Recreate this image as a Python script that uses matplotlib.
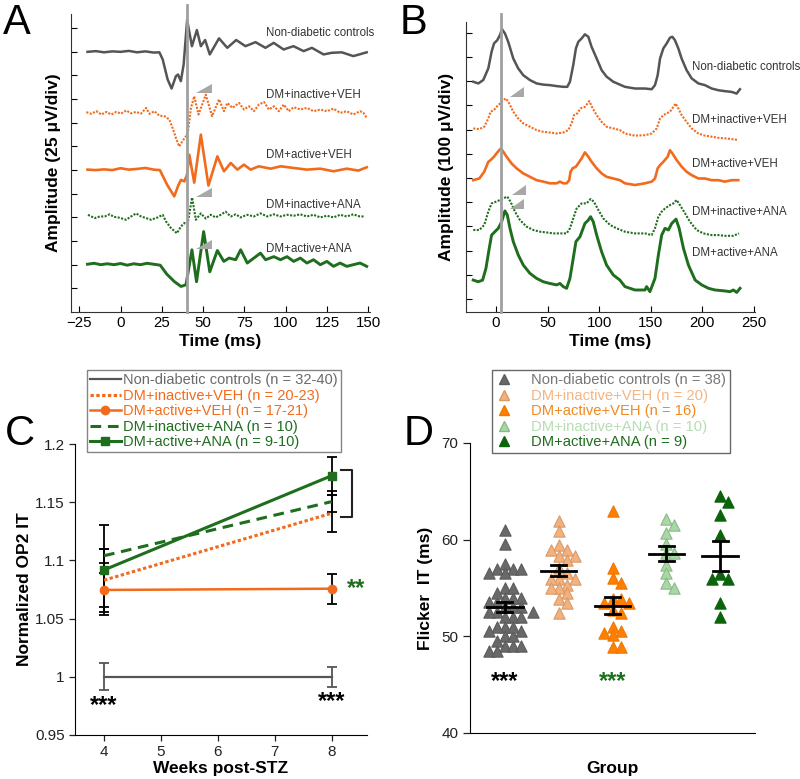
import numpy as np
import matplotlib
matplotlib.use("Agg")
import matplotlib.pyplot as plt
from matplotlib.lines import Line2D

plt.rcParams['font.family'] = ['Liberation Sans', 'DejaVu Sans']

# ---------------- data ----------------
GROUPS = ["Non-diabetic controls", "DM+inactive+VEH", "DM+active+VEH",
          "DM+inactive+ANA", "DM+active+ANA"]

# Panel A: OP waveforms (ms, amplitude in 25 uV divisions)
A_T_CTRL = [-20, -15, -10, -5, 0, 5, 10, 15, 20, 23.5, 25.5, 28.5, 30.9, 33.5, 34.8, 36.5, 38.2,
            40.3, 43.2, 46.2, 48.6, 51.2, 54, 59.6, 64.6, 70, 75.6, 81.7, 87.7, 92.7, 98.7, 104.7,
            110.8, 115.8, 122.9, 127.9, 133.9, 140.9, 145, 149]
A_V_CTRL = [11.0, 11.03, 10.98, 11.02, 11.0, 11.04, 10.98, 11.02, 10.97, 10.98, 10.68, 9.83, 9.45,
            9.97, 10.04, 9.76, 10.47, 12.35, 11.24, 11.92, 11.24, 11.5, 10.89, 11.57, 11.17, 11.5,
            11.24, 11.41, 11.17, 11.38, 11.1, 11.24, 11.03, 11.17, 10.89, 10.96, 10.98, 10.82,
            10.9, 10.98]
A_T_IVEH = [-20.7, -17.7, -14.6, -11.6, -8.6, -5.6, -2.6, 0.4, 3.4, 6.4, 9.4, 12.4, 15.5, 17.5,
            20.5, 23.5, 26.5, 29.5, 31.5, 33.5, 35.5, 37.6, 39.6, 41, 42.6, 44.6, 47.2, 51.6, 55.4,
            59.6, 62.6, 64.7, 67.7, 71.7, 74.7, 77.7, 80.7, 83.7, 86.8, 89.8, 92.8, 95.8, 98.8,
            101.8, 104.8, 108.8, 112.8, 116.8, 120.9, 124.9, 128.9, 132.9, 136.9, 140.9, 145, 147, 149]
A_V_IVEH = [8.45, 8.38, 8.49, 8.35, 8.46, 8.35, 8.46, 8.39, 8.52, 8.40, 8.46, 8.39, 8.63, 8.38,
            8.49, 8.30, 8.28, 8.14, 7.78, 7.36, 7.00, 7.24, 7.43, 7.71, 8.63, 9.12, 8.35, 9.19, 8.28,
            8.99, 8.49, 8.84, 8.63, 8.84, 8.56, 8.70, 8.49, 8.77, 8.88, 8.56, 8.70, 8.49, 8.77,
            8.49, 8.66, 8.56, 8.63, 8.49, 8.56, 8.49, 8.60, 8.42, 8.49, 8.35, 8.49, 8.42, 8.21]
A_T_AVEH = [-20, -15, -10, -5, 0, 5, 10, 15, 20, 23.8, 28.2, 32.5, 35.1, 36.6, 38.6, 40.2, 41.6,
            44.6, 48.6, 53.2, 58.6, 62.6, 66.7, 70.7, 74.7, 78.7, 83.7, 90.8, 96.9, 104.8, 112.8,
            120.9, 128.9, 136.9, 144, 149]
A_V_AVEH = [6.02, 6.0, 6.03, 6.0, 6.08, 6.02, 6.05, 6.09, 6.02, 6.0, 5.38, 4.89, 5.38, 5.59, 5.52,
            5.8, 6.65, 5.47, 7.5, 5.35, 6.58, 5.95, 6.3, 6.02, 6.23, 6.02, 6.16, 6.06, 6.16, 6.09,
            6.02, 6.06, 5.95, 6.06, 5.98, 6.12]
A_T_IANA = [-19.7, -15.7, -12.5, -9.6, -6.6, -4, -1.6, 1, 3.4, 6.4, 9.4, 12.4, 15.5, 18.5, 22.5,
            25.5, 27.5, 30.5, 34.1, 36.6, 38.6, 40.6, 43.3, 45.6, 48.6, 51.6, 54.6, 57.6, 60.6,
            63.6, 66.7, 69.7, 72.7, 76.7, 80.7, 84.7, 88.8, 92.8, 96.8, 100.8, 104.8, 108.8, 112.8,
            116.8, 120.9, 124.9, 128.9, 132.9, 136.9, 140.9, 144.9, 148]
A_V_IANA = [4.11, 3.97, 4.04, 4.04, 4.13, 4.02, 4.0, 3.95, 3.9, 4.04, 4.17, 4.04, 3.97, 3.9, 4.0,
            4.11, 3.83, 3.55, 3.33, 3.62, 3.76, 3.72, 4.84, 3.9, 4.17, 3.95, 4.11, 4.0, 4.11, 4.24,
            4.04, 4.13, 4.0, 4.11, 4.04, 4.17, 4.04, 4.13, 4.04, 4.11, 4.07, 4.13, 4.04, 4.11, 4.0,
            4.07, 4.0, 4.11, 4.04, 4.13, 4.04, 4.04]
A_T_AANA = [-20, -16, -12, -8, -4, 0, 4, 8, 12, 16, 20, 24, 28, 32.5, 36.6, 39.6, 43.2, 46, 50.3,
            54, 58.6, 62.5, 65.7, 69.7, 72.7, 76.7, 80.7, 84.7, 87.8, 92.8, 96.8, 100.8, 104.8,
            108.8, 112.8, 116.8, 120.9, 124.9, 128.9, 132.9, 136.9, 140.9, 145, 149]
A_V_AANA = [2.02, 2.06, 2.0, 2.04, 2.0, 2.05, 1.98, 2.04, 2.0, 2.06, 2.02, 1.98, 1.6, 1.29, 1.08,
            1.15, 2.63, 1.28, 3.4, 1.7, 2.6, 2.14, 2.28, 2.21, 2.63, 2.07, 2.28, 2.49, 2.21, 2.34,
            2.21, 2.34, 2.14, 2.28, 2.07, 2.21, 2.0, 2.14, 1.93, 2.07, 1.93, 2.0, 2.07, 1.93]
A_FLASH = 40
A_LABEL_Y = [11.78, 9.19, 6.65, 4.53, 2.67]
A_ARROWS = [(45.8, 9.27), (45.8, 4.86), (45.8, 2.66)]

# Panel B: flicker waveforms (ms, amplitude in 100 uV divisions)
B_T_CTRL = [-22, -17.1, -12.3, -7.4, -4.2, -1.9, 1.3, 3.9, 5.8, 8.7, 11.9, 16.8, 21.6, 26.5, 32.9,
            39.4, 45.9, 52.3, 58.8, 65.2, 69.1, 71.7, 74.9, 77.5, 79.8, 83, 86.2, 89.5, 92.7, 97.6,
            102.4, 107.2, 113.7, 120.1, 125, 134.7, 144.4, 150.9, 154.1, 156.7, 159, 162.2, 165.4,
            168.6, 170.9, 173.4, 176.7, 179.9, 184.7, 189.6, 196.1, 202.5, 209, 215.4, 221.9,
            228.4, 233.2, 236.4]
B_V_CTRL = [8.98, 8.91, 9.05, 9.53, 10.22, 10.56, 10.70, 10.91, 11.16, 10.98, 10.63, 9.94, 9.53,
            9.25, 9.05, 8.91, 8.86, 8.84, 8.80, 8.77, 8.77, 8.98, 9.67, 10.36, 10.63, 10.77, 10.94,
            10.84, 10.42, 9.94, 9.46, 9.19, 8.98, 8.86, 8.77, 8.70, 8.70, 8.67, 8.84, 9.25, 9.94,
            10.36, 10.56, 10.80, 10.84, 10.70, 10.36, 9.94, 9.46, 9.12, 8.91, 8.84, 8.70, 8.63,
            8.59, 8.56, 8.49, 8.67]
B_T_IVEH = [-22, -16.1, -11.3, -7.4, -5.2, -1.9, 0.6, 3.9, 7.1, 9.7, 12.9, 16.8, 21.6, 26.5, 32.9,
            39.4, 45.9, 52.3, 58.8, 65.2, 70.1, 73.3, 75.6, 78.8, 82, 86.2, 90.5, 93.7, 97.6, 102.4,
            107.2, 113.7, 120.1, 125, 134.7, 144.4, 150.9, 155.8, 159, 162.2, 165.4, 168.6, 171.9,
            174.1, 176.7, 179.9, 184.7, 189.6, 196.1, 202.5, 209, 215.4, 221.9, 228.4, 234.8]
B_V_IVEH = [7.05, 7.02, 7.12, 7.46, 7.74, 7.81, 7.94, 8.08, 8.22, 8.29, 8.08, 7.74, 7.46, 7.26,
            7.12, 6.98, 6.91, 6.88, 6.84, 6.88, 6.98, 7.26, 7.60, 7.67, 7.88, 7.94, 8.18, 7.88, 7.60,
            7.32, 7.12, 7.05, 6.98, 6.84, 6.75, 6.77, 6.84, 7.05, 7.46, 7.60, 7.67, 7.74, 7.94,
            8.08, 7.88, 7.60, 7.32, 7.05, 6.84, 6.75, 6.71, 6.66, 6.64, 6.61, 6.57]
B_T_AVEH = [-22, -16.1, -11.3, -7.4, -5.2, -1.9, 0.6, 3.2, 4.8, 7.1, 10.3, 15.2, 20, 26.5, 32.9,
            39.4, 45.9, 52.3, 58.8, 62, 65.2, 68.5, 71, 72.3, 74.3, 77.5, 80.8, 83, 86.2, 89.5,
            92.7, 97.6, 102.4, 107.2, 113.7, 120.1, 125, 134.7, 144.4, 150.9, 154.1, 156.7, 159,
            162.2, 166.4, 168.6, 170.9, 175.1, 179.9, 184.7, 189.6, 196.1, 202.5, 209, 215.4,
            221.9, 228.4, 234.8]
B_V_AVEH = [4.91, 4.98, 5.26, 5.67, 5.74, 5.88, 6.02, 6.15, 6.22, 6.09, 5.88, 5.60, 5.40, 5.19,
            5.05, 4.91, 4.85, 4.78, 4.78, 4.85, 4.78, 4.78, 4.91, 5.26, 5.40, 5.47, 5.67, 5.81,
            6.06, 5.88, 5.67, 5.40, 5.19, 5.05, 4.98, 4.91, 4.78, 4.71, 4.78, 4.85, 4.98, 5.40,
            5.53, 5.67, 5.88, 6.15, 6.02, 5.74, 5.47, 5.26, 5.12, 4.98, 4.98, 4.91, 4.91, 4.85,
            4.91, 4.91]
B_T_IANA = [-22, -16.1, -11.3, -7.4, -4.2, 0, 3.9, 7.1, 11, 14.2, 18.4, 23.3, 29.7, 36.2, 42.6,
            49.1, 55.5, 62, 68.5, 71.7, 74.9, 78.2, 83, 87.9, 91.7, 94.9, 99.2, 104, 110.5, 116.9,
            125, 134.7, 144.4, 150.9, 154.1, 157.4, 160.6, 163.8, 168.6, 171.9, 175.1, 178.3,
            183.2, 188, 194.5, 200.9, 209, 215.4, 221.9, 230, 235.5]
B_V_IANA = [2.85, 2.85, 3.06, 3.61, 3.95, 4.02, 4.09, 4.16, 4.23, 4.02, 3.61, 3.26, 2.99, 2.85,
            2.78, 2.75, 2.71, 2.71, 2.71, 2.92, 3.33, 3.74, 3.95, 3.95, 4.13, 4.02, 3.68, 3.33, 3.06,
            2.92, 2.78, 2.71, 2.71, 2.64, 2.92, 3.40, 3.61, 3.74, 3.88, 3.95, 4.09, 3.88, 3.54,
            3.19, 2.85, 2.71, 2.64, 2.64, 2.61, 2.61, 2.71]
B_T_AANA = [-22, -17.1, -12.9, -9.7, -6.5, -4.2, -1, 2.3, 5.5, 8.7, 11, 13.6, 16.8, 21.6, 26.5,
            32.9, 39.4, 45.9, 52.3, 58.8, 62, 65.2, 68.5, 71.7, 74.9, 77.5, 81.4, 86.2, 89.5, 91.7,
            94.3, 97.6, 102.4, 107.2, 113.7, 120.1, 125, 134.7, 144.4, 146, 149.2, 154.1, 157.4,
            160.6, 163.8, 167.1, 170.3, 174.5, 177.5, 181.7, 186.5, 193, 199.4, 205.9, 212.3, 222,
            226.8, 230, 233.3, 236.5]
B_V_AANA = [0.78, 0.71, 0.78, 1.26, 2.09, 2.64, 2.78, 2.92, 3.19, 3.64, 3.47, 2.92, 2.37, 1.82,
            1.40, 1.06, 0.85, 0.71, 0.64, 0.58, 0.64, 0.51, 0.44, 0.85, 1.68, 2.37, 2.57, 3.12,
            3.26, 3.40, 3.19, 2.64, 1.95, 1.40, 0.99, 0.78, 0.51, 0.37, 0.37, 0.51, 0.30, 0.85,
            1.82, 2.64, 2.92, 2.85, 3.12, 3.30, 2.92, 2.09, 1.40, 0.78, 0.58, 0.44, 0.37, 0.33,
            0.30, 0.37, 0.27, 0.44]
B_FLASH = 4.5
B_LABEL_Y = [9.6, 7.39, 5.58, 3.6, 1.89]
B_ARROWS = [(13.6, 8.36), (15.2, 4.29), (13.6, 3.70)]

# Panel C: normalized OP2 implicit time
C_WEEKS = [4, 8]
C_MEAN = [[1.0, 1.0], [1.083, 1.1405], [1.0746, 1.0757], [1.104, 1.1505], [1.0918, 1.1728]]
C_ERR = [[0.0117, 0.0086], [0.027, 0.016], [0.0145, 0.0128], [0.006, 0.009], [0.0385, 0.0163]]
C_N = ["32-40", "20-23", "17-21", "10", "9-10"]

# Panel D: flicker implicit time (ms), individual animals
D_CTRL = [61.0, 59.5, 57.5, 57.0, 57.0, 57.0, 56.5, 56.5, 55.0, 55.0, 54.0, 54.0, 54.0, 53.5,
          53.5, 52.0, 53.0, 53.0, 53.0, 52.5, 52.5, 52.5, 52.0, 52.0, 51.0, 51.0, 50.5, 50.5,
          50.0, 50.0, 49.0, 49.0, 49.0, 48.5, 48.5, 54.5, 51.0, 49.5]
D_IVEH = [61.97, 60.93, 59.45, 58.93, 58.93, 58.31, 58.31, 57.9, 57.04, 56.5, 55.9, 55.9, 55.9,
          55.3, 54.97, 54.97, 54.45, 53.9, 53.4, 52.4]
D_AVEH = [63.0, 57.04, 56.0, 55.5, 53.9, 53.9, 53.4, 53.4, 52.7, 52.4, 51.0, 50.5, 50.15, 50.3,
          48.9, 48.9]
D_IANA = [62.1, 61.5, 60.66, 59.6, 58.65, 58.65, 57.4, 56.5, 55.5, 55.0]
D_AANA = [64.52, 63.93, 62.55, 60.49, 56.45, 55.94, 55.94, 53.4, 51.97]

GRAY = "#555555"
ORANGE = "#f26b1d"
GREEN = "#1e6e1e"
ARROW = "#a8a8a8"

fig = plt.figure(figsize=(8, 7.79), dpi=100)
W, H = 800.0, 779.0


def box(l, r, b, t):
    return [l / W, 1 - b / H, (r - l) / W, (b - t) / H]


def trace_axes(ax):
    for s in ("top", "right"):
        ax.spines[s].set_visible(False)
    for s in ("left", "bottom"):
        ax.spines[s].set_color("#333333")
    ax.tick_params(direction="in", length=4, width=0.8, labelsize=10.8, pad=3)
    ax.set_yticklabels([])


trace_styles = [dict(color=GRAY, lw=1.8),
                dict(color=ORANGE, lw=1.5, ls=(0, (1, 0.7))),
                dict(color=ORANGE, lw=1.9),
                dict(color=GREEN, lw=1.5, ls=(0, (1, 0.7))),
                dict(color=GREEN, lw=2.1)]


def arrowhead(ax, x0, y0, w, h):
    ax.fill([x0, x0 + w, x0 + w], [y0, y0, y0 + h], color=ARROW, lw=0, zorder=5)


# ---------------- panel A ----------------
axA = fig.add_axes(box(71, 370, 312, 14))
a_series = [(A_T_CTRL, A_V_CTRL), (A_T_IVEH, A_V_IVEH), (A_T_AVEH, A_V_AVEH),
            (A_T_IANA, A_V_IANA), (A_T_AANA, A_V_AANA)]
for (t, v), st, name, ly in zip(a_series, trace_styles, GROUPS, A_LABEL_Y):
    axA.plot(t, v, **st)
    axA.text(88, ly, name, fontsize=8.3, color="#333333", va="center")
axA.plot([A_FLASH, A_FLASH], [0, 13.0], color="#a0a0a0", lw=2, clip_on=False, zorder=4)
for x0, y0 in A_ARROWS:
    arrowhead(axA, x0, y0, 9.5, 0.38)
axA.set_xlim(-30, 151)
axA.set_ylim(0, 12.6)
axA.set_xticks(range(-25, 151, 25))
axA.set_yticks(range(1, 13))
trace_axes(axA)
axA.set_xlabel("Time (ms)", fontsize=12.5, fontweight="bold", labelpad=3)
axA.set_ylabel("Amplitude (25 \u03bcV/div)", fontsize=12.5, fontweight="bold", labelpad=4)

# ---------------- panel B ----------------
axB = fig.add_axes(box(466, 755, 312, 22))
b_series = [(B_T_CTRL, B_V_CTRL), (B_T_IVEH, B_V_IVEH), (B_T_AVEH, B_V_AVEH),
            (B_T_IANA, B_V_IANA), (B_T_AANA, B_V_AANA)]
for (t, v), st, name, ly in zip(b_series, trace_styles, GROUPS, B_LABEL_Y):
    axB.plot(t, v, **st)
    axB.text(189.6, ly, name, fontsize=8.3, color="#333333", va="center", clip_on=False)
axB.plot([B_FLASH, B_FLASH], [-0.54, 11.8], color="#a0a0a0", lw=2, clip_on=False, zorder=4)
for x0, y0 in B_ARROWS:
    arrowhead(axB, x0, y0, 13.5, 0.42)
axB.set_xlim(-29, 251)
axB.set_ylim(-0.54, 11.45)
axB.set_xticks(range(0, 251, 50))
axB.set_yticks(range(0, 12))
trace_axes(axB)
axB.set_xlabel("Time (ms)", fontsize=12.5, fontweight="bold", labelpad=3)
axB.set_ylabel("Amplitude (100 \u03bcV/div)", fontsize=12.5, fontweight="bold", labelpad=6)

# ---------------- panel C ----------------
axC = fig.add_axes(box(75, 367, 735, 444))
c_styles = [dict(color=GRAY, lw=1.6),
            dict(color=ORANGE, lw=2.2, ls=(0, (1.1, 0.8))),
            dict(color=ORANGE, lw=1.8, marker="o", ms=6),
            dict(color=GREEN, lw=2.2, ls=(0, (3.5, 2.2))),
            dict(color=GREEN, lw=2.2, marker="s", ms=6)]
for i, (m, e) in enumerate(zip(C_MEAN, C_ERR)):
    ecol = GRAY if i == 0 else "black"
    axC.errorbar(C_WEEKS, m, yerr=e, fmt="none", ecolor=ecol, elinewidth=1.3,
                 capsize=3.5, capthick=1.3, zorder=2)
handles = []
for m, st in zip(C_MEAN, c_styles):
    axC.plot(C_WEEKS, m, zorder=3, **st)
    handles.append(Line2D([], [], **st))
# bracket at week 8 and significance marks
axC.plot([8.17, 8.35, 8.35, 8.17], [C_MEAN[4][1] + 0.005, C_MEAN[4][1] + 0.005,
                                    1.137, 1.137], color="#222222", lw=1.5)
axC.text(8.42, C_MEAN[2][1], "**", color=GREEN, fontsize=17, fontweight="bold",
         ha="center", va="center")
axC.text(4, 0.975, "***", color="black", fontsize=17, fontweight="bold", ha="center", va="center")
axC.text(8, 0.979, "***", color="black", fontsize=17, fontweight="bold", ha="center", va="center")
axC.set_xlim(3.49, 8.62)
axC.set_ylim(0.95, 1.2)
axC.set_xticks([4, 5, 6, 7, 8])
axC.set_yticks([0.95, 1.0, 1.05, 1.1, 1.15, 1.2])
axC.set_yticklabels(["0.95", "1", "1.05", "1.1", "1.15", "1.2"])
for s in ("top", "right"):
    axC.spines[s].set_visible(False)
axC.tick_params(direction="out", length=4, width=0.9, labelsize=11, colors="#222222")
axC.set_xlabel("Weeks post-STZ", fontsize=12.5, fontweight="bold", labelpad=1)
axC.set_ylabel("Normalized OP2 IT", fontsize=12.5, fontweight="bold", labelpad=2)
c_text_cols = ["#6a6a6a", ORANGE, ORANGE, GREEN, GREEN]
legC = axC.legend(handles, [f"{g} (n = {n})" for g, n in zip(GROUPS, C_N)],
                  loc="lower left", bbox_to_anchor=(87 / W, 1 - 452 / H),
                  bbox_transform=fig.transFigure, frameon=True, fancybox=False,
                  edgecolor="#666666", fontsize=10.5, labelcolor=c_text_cols,
                  handlelength=2.1, handletextpad=0.2, borderpad=0.2, labelspacing=0.1,
                  borderaxespad=0)
legC.get_frame().set_linewidth(1.0)

# ---------------- panel D ----------------
axD = fig.add_axes(box(470, 755, 733, 443))
d_vals = [D_CTRL, D_IVEH, D_AVEH, D_IANA, D_AANA]
d_n = [len(v) for v in d_vals]
d_face = ["#696969", "#f3b17e", "#ff8000", "#aad7a6", "#0b640b"]
d_edge = ["#5c5c5c", "#d99a68", "#f07800", "#88bb85", "#0b640b"]


def swarm(vals, w=0.15, h=0.75):
    vals = np.asarray(vals, dtype=float)
    offs = np.zeros(len(vals))
    placed = []
    for i in np.argsort(-vals):
        v = vals[i]
        k = 0
        while True:
            off = ((k + 1) // 2) * (w / 2) * (1 if k % 2 else -1)
            if all(abs(off - po) >= w or abs(v - pv) >= h for po, pv in placed):
                break
            k += 1
        placed.append((off, v))
        offs[i] = off
    return offs


for gi, (vals, fc, ec) in enumerate(zip(d_vals, d_face, d_edge)):
    xs = gi + swarm(vals)
    axD.scatter(xs, vals, marker="^", s=66, facecolor=fc, edgecolor=ec, linewidth=0.8, zorder=2)
    mean = np.mean(vals)
    sem = np.std(vals, ddof=1) / np.sqrt(len(vals))
    axD.plot([gi - 0.33, gi + 0.33], [mean, mean], color="black", lw=2, zorder=3)
    axD.plot([gi, gi], [mean - sem, mean + sem], color="black", lw=2, zorder=3)
    for yy in (mean - sem, mean + sem):
        axD.plot([gi - 0.14, gi + 0.14], [yy, yy], color="black", lw=2, zorder=3)
axD.text(0, 45.3, "***", color="black", fontsize=17, fontweight="bold", ha="center", va="center")
axD.text(2, 45.3, "***", color=GREEN, fontsize=17, fontweight="bold", ha="center", va="center")
axD.set_xlim(-0.65, 4.65)
axD.set_ylim(40, 70)
axD.set_yticks([40, 50, 60, 70])
axD.set_xticks([])
for s in ("top", "right"):
    axD.spines[s].set_visible(False)
axD.tick_params(axis="y", direction="out", length=5, width=0.9, labelsize=11, colors="#222222")
axD.set_xlabel("Group", fontsize=12.5, fontweight="bold", labelpad=20)
axD.set_ylabel("Flicker  IT (ms)", fontsize=12.5, fontweight="bold", labelpad=6)
d_handles = [Line2D([], [], marker="^", ls="none", ms=7, mfc=fc, mec=ec)
             for fc, ec in zip(d_face, d_edge)]
d_text_cols = ["#777777", "#f3b584", "#f08a20", "#b6ddb2", "#1e6e1e"]
legD = axD.legend(d_handles, [f"{g} (n = {n})" for g, n in zip(GROUPS, d_n)],
                  loc="lower left", bbox_to_anchor=(492 / W, 1 - 453 / H),
                  bbox_transform=fig.transFigure, frameon=True, fancybox=False,
                  edgecolor="#444444", fontsize=10.6, labelcolor=d_text_cols,
                  handlelength=1.1, handletextpad=1.3, borderpad=0.25, labelspacing=0.1,
                  borderaxespad=0)
legD.get_frame().set_linewidth(1.0)

# panel letters
for letter, x, y in (("A", 3, 23), ("B", 400, 23), ("C", 5, 434), ("D", 404, 434)):
    fig.text(x / W, 1 - y / H, letter, fontsize=30, ha="left", va="center")

fig.savefig("out.png", dpi=100)
